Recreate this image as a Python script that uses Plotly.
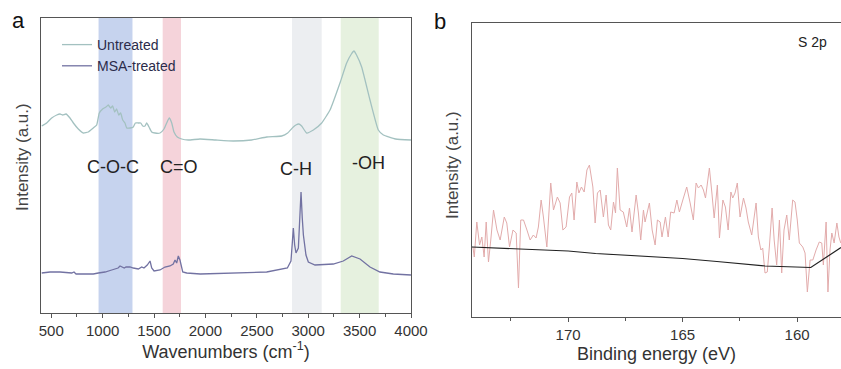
import plotly.graph_objects as go

# ---------------- Panel a: FTIR ----------------
wn_untreated = [407, 455, 504, 553, 585, 611, 643, 682, 715, 763, 812, 860, 909, 942, 967, 1000,
                1032, 1055, 1078, 1097, 1117, 1136, 1156, 1175, 1195, 1217, 1234, 1266, 1298, 1318,
                1347, 1370, 1390, 1412, 1428, 1451, 1477, 1509, 1558, 1597, 1623, 1648, 1672, 1694,
                1726, 1769, 1833, 1947, 2100, 2271, 2450, 2596, 2742, 2800, 2855, 2880, 2910, 2936,
                2985, 3050, 3131, 3212, 3309, 3374, 3420, 3445, 3470, 3520, 3601, 3682, 3731, 3850, 4000]
int_untreated = [187, 190, 195, 198, 199, 198, 199, 195, 190, 184, 180, 181, 185, 188, 200, 204,
                 206, 208, 205, 207, 201, 204, 198, 200, 193, 190, 185, 185, 186, 190,
                 190, 190, 187, 187, 190, 186, 181, 180, 180, 184, 190, 195, 190, 181,
                 176, 174, 173, 174, 173, 172, 173, 176, 177, 180, 186, 188, 189, 187,
                 180, 183, 190, 203, 230, 250, 259, 262, 258, 246, 213, 183, 178, 174, 173]

wn_msa = [407, 488, 585, 650, 699, 721, 741, 812, 909, 958, 1023, 1088, 1120, 1136, 1150, 1169,
          1195, 1210, 1227, 1266, 1298, 1347, 1380, 1402, 1434, 1461, 1477, 1500, 1558, 1606,
          1655, 1687, 1704, 1720, 1736, 1752, 1779, 1818, 1950, 2271, 2596, 2797, 2832, 2845,
          2855, 2868, 2881, 2904, 2918, 2930, 2942, 2953, 2978, 3001, 3066, 3244, 3341, 3423,
          3504, 3601, 3698, 3828, 4000]
int_msa = [40, 41, 41, 40, 40, 41, 39, 39, 39, 40, 41, 43, 44, 44, 45, 47,
           46, 45, 46, 46, 45, 44, 46, 45, 48, 52, 45, 42, 43, 46,
           47, 49, 53, 50, 57, 53, 41, 40, 39, 40, 41, 45, 52, 70,
           85, 68, 60, 65, 95, 121, 95, 78, 58, 51, 48, 49, 52, 57,
           54, 46, 41, 39, 38]

bands = [  # (start, end, color)
    (960, 1290, "#c6d3ee"),
    (1584, 1762, "#f5d3da"),
    (2842, 3131, "#eceef1"),
    (3316, 3686, "#e6f1df"),
]
band_labels = ["C-O-C", "C=O", "C-H", "-OH"]
band_label_x = [1100, 1743, 2881, 3591]
band_label_y = [146, 146, 144, 150]

# ---------------- Panel b: XPS S 2p ----------------
be = [174.16, 174.10, 173.99, 173.87, 173.77, 173.67, 173.58, 173.48, 173.38, 173.26, 173.11, 172.97,
      172.79, 172.68, 172.56, 172.41, 172.27, 172.17, 172.07, 171.95, 171.80, 171.66, 171.52, 171.40,
      171.30, 171.18, 171.08, 170.93, 170.76, 170.64, 170.47, 170.35, 170.23, 170.09, 169.94, 169.84,
      169.74, 169.62, 169.53, 169.42, 169.30, 169.18, 169.07, 168.92, 168.82,
      168.72, 168.60, 168.46, 168.34, 168.24, 168.14, 168.02, 167.93, 167.85, 167.73, 167.59, 167.44,
      167.32, 167.21, 167.03, 166.93, 166.83, 166.71, 166.64, 166.45, 166.33, 166.20, 166.10, 165.98,
      165.90, 165.75, 165.63, 165.52, 165.37, 165.25, 165.14, 164.99, 164.82, 164.67, 164.53, 164.41,
      164.31, 164.19, 164.09, 164.00, 163.83, 163.72, 163.62,
      163.48, 163.39, 163.24, 163.13, 163.01, 162.89, 162.81, 162.71, 162.61, 162.49, 162.34, 162.23,
      162.13, 161.98, 161.79, 161.69, 161.58, 161.50, 161.40, 161.30, 161.21, 161.09, 161.00, 160.89,
      160.77, 160.67, 160.57, 160.45, 160.34, 160.19, 160.09, 159.99, 159.90, 159.75, 159.65, 159.55,
      159.43, 159.31, 159.17, 159.03, 158.92, 158.85, 158.73, 158.65, 158.56, 158.48, 158.38, 158.26,
      158.17, 158.09]
xps_int = [70, 60, 95, 72, 80, 60, 95, 55, 77, 107, 87, 77,
           100, 94, 70, 87, 84, 29, 97, 97, 87, 77, 82, 79,
           90, 117, 100, 70, 134, 107, 120, 114, 87, 90, 120, 124,
           97, 135, 124, 130, 125, 147, 152, 130, 94,
           124, 127, 100, 122, 92, 87, 115, 104, 149, 107, 105, 90,
           109, 85, 122, 104, 77, 107, 95, 114, 87, 72, 97, 95,
           80, 100, 80, 105, 104, 117, 105, 117, 130, 114, 97, 134,
           129, 132, 127, 119, 149, 124, 99,
           132, 79, 117, 110, 87, 125, 119, 124, 134, 100, 119, 109,
           95, 82, 114, 80, 67, 69, 44, 45, 70, 109, 77, 52,
           97, 44, 87, 102, 77, 117, 115, 97, 74, 70, 64, 25,
           57, 57, 67, 75, 74, 52, 95, 25, 67, 84, 74, 94,
           80, 74]
bg_be = [174.2, 170.0, 168.8, 165.0, 163.5, 161.4, 159.4, 158.08]
bg_int = [70, 66, 63.5, 58.5, 55.5, 51, 49.5, 69.5]

FONT = "Arial, Liberation Sans, sans-serif"
TXT = "#333333"
AX = "#555555"

fig = go.Figure()

fig.add_trace(go.Scatter(x=wn_untreated, y=int_untreated, mode="lines", name="Untreated",
                         line=dict(color="#a3c1c0", width=1.3, shape="spline", smoothing=0.4),
                         xaxis="x", yaxis="y"))
fig.add_trace(go.Scatter(x=wn_msa, y=int_msa, mode="lines", name="MSA-treated",
                         line=dict(color="#7272a2", width=1.3),
                         xaxis="x", yaxis="y"))
fig.add_trace(go.Scatter(x=be, y=xps_int, mode="lines", showlegend=False,
                         line=dict(color="#e2abab", width=1),
                         xaxis="x2", yaxis="y2"))
fig.add_trace(go.Scatter(x=bg_be, y=bg_int, mode="lines", showlegend=False,
                         line=dict(color="#222222", width=1.2),
                         xaxis="x2", yaxis="y2"))

for (x0, x1, c) in bands:
    fig.add_shape(type="rect", xref="x", yref="y domain", x0=x0, x1=x1, y0=0, y1=1,
                  fillcolor=c, line=dict(width=0), layer="below")

for t, x, y in zip(band_labels, band_label_x, band_label_y):
    fig.add_annotation(text=t, x=x, y=y, xref="x", yref="y", showarrow=False,
                       xanchor="center", yanchor="middle",
                       font=dict(family=FONT, size=18, color="#222222"))

def paper_text(text, px, py, size, color, angle=0):
    fig.add_annotation(text=text, x=px / 841, y=1 - py / 369, xref="paper", yref="paper",
                       showarrow=False, xanchor="center", yanchor="middle", textangle=angle,
                       font=dict(family=FONT, size=size, color=color))

paper_text("a", 18, 21, 22, "#111111")
paper_text("b", 440, 22, 22, "#111111")
paper_text("S 2p", 812, 42, 14, "#222222")
paper_text("Intensity (a.u.)", 22, 157, 17, "#444444", -90)
paper_text("Intensity (a.u.)", 452, 165, 17, "#444444", -90)

axis_common = dict(showline=True, linecolor=AX, linewidth=1.2, mirror=True, showgrid=False,
                   zeroline=False, automargin=False,
                   tickfont=dict(family=FONT, size=15, color=TXT))

fig.update_layout(
    width=841, height=369,
    margin=dict(l=0, r=0, t=0, b=0, autoexpand=False),
    paper_bgcolor="white", plot_bgcolor="white",
    font=dict(family=FONT, color=TXT),
    showlegend=True,
    legend=dict(x=57 / 841, y=1 - 29 / 369, xanchor="left", yanchor="top",
                bgcolor="rgba(0,0,0,0)", font=dict(family=FONT, size=14, color="#2b2b4a"),
                tracegroupgap=0, itemwidth=30),
    xaxis=dict(domain=[41 / 841, 411 / 841], range=[400, 4000], anchor="y",
               tickmode="array", tickvals=[500, 1000, 1500, 2000, 2500, 3000, 3500, 4000],
               ticks="outside", ticklen=4, tickcolor=AX,
               minor=dict(tickvals=[750, 1250, 1750, 2250, 2750, 3250, 3750], ticks="outside",
                          ticklen=3, tickcolor=AX),
               title=dict(text="Wavenumbers (cm<sup>-1</sup>)", standoff=2,
                          font=dict(family=FONT, size=18, color=TXT)),
               **axis_common),
    yaxis=dict(domain=[(369 - 313) / 369, (369 - 18) / 369], range=[0, 295], anchor="x",
               showticklabels=False, ticks="", **axis_common),
    xaxis2=dict(domain=[472 / 841, 1.0], range=[174.2, 158.08], anchor="y2",
                tickmode="array", tickvals=[170, 165, 160],
                ticks="outside", ticklen=4, tickcolor=AX,
                minor=dict(tickvals=[172.5, 167.5, 162.5], ticks="outside", ticklen=3, tickcolor=AX),
                title=dict(text="Binding energy (eV)", standoff=5,
                           font=dict(family=FONT, size=18, color=TXT)),
                **axis_common),
    yaxis2=dict(domain=[(369 - 317) / 369, (369 - 23) / 369], range=[0, 294], anchor="x2",
                showticklabels=False, ticks="", **axis_common),
)

fig.write_html("out.html")
